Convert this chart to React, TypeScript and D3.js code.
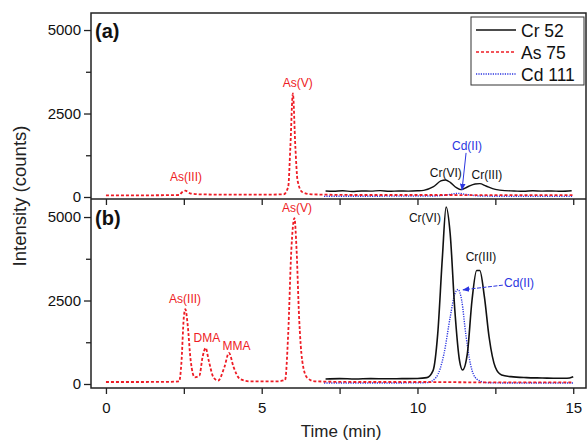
import * as d3 from "d3";
import { useRef, useEffect } from "react";

// time (min), intensity (counts)
const asA: [number, number][] = [
  [0, 50], [1, 50], [2, 55], [2.35, 60], [2.45, 150], [2.55, 190], [2.7, 110], [3, 80],
  [4, 70], [5, 70], [5.7, 80], [5.85, 300], [5.92, 1500], [6.0, 3100], [6.08, 1500],
  [6.15, 500], [6.3, 150], [6.6, 80], [8, 60], [10, 60], [11, 60], [12, 55], [13, 55], [15, 55]
];
const crA: [number, number][] = [
  [7.05, 180], [7.3, 170], [7.6, 185], [7.9, 165], [8.2, 180], [8.5, 175], [8.8, 190],
  [9.1, 170], [9.4, 180], [9.7, 175], [10, 185], [10.2, 200], [10.5, 300], [10.75, 480],
  [10.9, 510], [11.05, 440], [11.25, 280], [11.4, 220], [11.6, 300], [11.85, 390],
  [12.0, 400], [12.2, 330], [12.5, 230], [12.8, 190], [13.1, 180], [13.4, 170],
  [13.7, 185], [14, 175], [14.3, 180], [14.6, 170], [14.95, 185]
];
const cdA: [number, number][] = [
  [7, 20], [9, 25], [10.5, 30], [11, 70], [11.3, 110], [11.6, 70], [12, 30], [13, 20], [15, 20]
];
const asB: [number, number][] = [
  [0, 60], [1, 60], [2, 65], [2.35, 80], [2.42, 600], [2.5, 2000], [2.55, 2240], [2.62, 1800],
  [2.72, 700], [2.85, 200], [3.0, 250], [3.1, 800], [3.2, 1080], [3.3, 700], [3.45, 200],
  [3.6, 100], [3.8, 500], [3.95, 930], [4.1, 500], [4.3, 150], [4.6, 80], [5.5, 80],
  [5.75, 120], [5.85, 1500], [5.95, 4000], [6.05, 4970], [6.12, 4000], [6.2, 2000],
  [6.3, 700], [6.45, 200], [6.7, 80], [8, 60], [10, 60], [12, 50], [15, 50]
];
const crB: [number, number][] = [
  [7.05, 150], [7.5, 160], [8, 150], [8.5, 160], [9, 155], [9.5, 160], [10, 165],
  [10.3, 190], [10.5, 400], [10.65, 1500], [10.8, 3800], [10.92, 5300], [11.05, 4500],
  [11.2, 2200], [11.35, 700], [11.45, 420], [11.6, 900], [11.75, 2500], [11.9, 3400],
  [12.0, 3400], [12.15, 2600], [12.3, 1400], [12.5, 500], [12.7, 270], [13, 220],
  [13.5, 190], [14, 180], [14.5, 170], [14.8, 170], [15, 220]
];
const cdB: [number, number][] = [
  [7, 30], [9, 30], [10.3, 40], [10.6, 200], [10.85, 900], [11.05, 2000], [11.2, 2700],
  [11.3, 2830], [11.42, 2500], [11.55, 1500], [11.7, 600], [11.9, 150], [12.2, 40],
  [13, 30], [15, 30]
];

const xTicks = [0, 5, 10, 15];
const xMinor = [2.5, 7.5, 12.5];
const yTicks = [0, 2500, 5000];
const yMinor = [1250, 3750];

const legendNames = ["Cr 52", "As 75", "Cd 111"];

// label text, time, intensity at baseline, colour key
const labelsA = [
  { text: "As(III)", t: 2.57, v: 480, c: "as" },
  { text: "As(V)", t: 6.16, v: 3300, c: "as" },
  { text: "Cd(II)", t: 11.59, v: 1400, c: "cd" },
  { text: "Cr(VI)", t: 10.91, v: 600, c: "cr" },
  { text: "Cr(III)", t: 12.23, v: 540, c: "cr" }
];
const labelsB = [
  { text: "As(V)", t: 6.13, v: 5150, c: "as" },
  { text: "As(III)", t: 2.54, v: 2425, c: "as" },
  { text: "DMA", t: 3.24, v: 1257, c: "as" },
  { text: "MMA", t: 4.19, v: 1018, c: "as" },
  { text: "Cr(VI)", t: 10.24, v: 4850, c: "cr" },
  { text: "Cr(III)", t: 12.04, v: 3683, c: "cr" },
  { text: "Cd(II)", t: 13.26, v: 2904, c: "cd" }
];

const colors: Record<string, string> = { cr: "#111", as: "#ee1c25", cd: "#2b35e0" };
const dashes: Record<string, string> = { cr: "none", as: "3,2", cd: "1.2,1.2" };
const font = "'Liberation Sans', Arial, sans-serif";

const width = 587;
const height = 440;
const left = 91;
const right = 586;
const topA = 13;
const botA = 199;
const botB = 388;

export default function App() {
  const gyA = useRef<SVGGElement>(null);
  const gyB = useRef<SVGGElement>(null);
  const gxA = useRef<SVGGElement>(null);
  const gxB = useRef<SVGGElement>(null);

  const x = d3.scaleLinear([-0.48, 15.41], [left, right]);
  const yA = d3.scaleLinear([-60, 5510], [botA, topA]);
  const yB = d3.scaleLinear([-120, 5540], [botB, botA]);

  const lineA = d3.line<[number, number]>().x(d => x(d[0])).y(d => yA(d[1])).curve(d3.curveMonotoneX);
  const lineB = d3.line<[number, number]>().x(d => x(d[0])).y(d => yB(d[1])).curve(d3.curveMonotoneX);

  useEffect(() => {
    const style = (g: d3.Selection<SVGGElement, unknown, null, undefined>) => {
      g.select(".domain").remove();
      g.selectAll("line").attr("stroke", "#222").attr("stroke-width", 1.3);
      g.selectAll("text").attr("font-family", font).attr("font-size", 15).attr("fill", "#111");
    };
    [
      [gyA, yA],
      [gyB, yB]
    ].forEach(([ref, y]: any) => {
      const g = d3.select(ref.current as SVGGElement);
      g.selectAll("*").remove();
      g.append("g").call(d3.axisLeft(y).tickValues(yTicks).tickSize(7).tickPadding(3).tickFormat(d3.format("d"))).call(style);
      g.append("g").call(d3.axisLeft(y).tickValues(yMinor).tickSize(5).tickFormat(() => "")).call(style);
    });
    const gA = d3.select(gxA.current as SVGGElement);
    gA.selectAll("*").remove();
    gA.append("g").call(d3.axisBottom(x).tickValues([...xTicks, ...xMinor]).tickSize(6).tickFormat(() => "")).call(style);
    const gB = d3.select(gxB.current as SVGGElement);
    gB.selectAll("*").remove();
    gB.append("g").call(d3.axisBottom(x).tickValues(xTicks).tickSize(6).tickPadding(8).tickFormat(d3.format("d"))).call(style);
    gB.append("g").call(d3.axisBottom(x).tickValues(xMinor).tickSize(6).tickFormat(() => "")).call(style);
  }, []);

  const series = (
    line: d3.Line<[number, number]>,
    data: [number, number][],
    key: string,
    sw: number
  ) => (
    <path d={line(data) ?? ""} fill="none" stroke={colors[key]} strokeWidth={sw} strokeDasharray={dashes[key]} />
  );

  const labels = (ls: typeof labelsA, y: d3.ScaleLinear<number, number>) =>
    ls.map((l, i) => (
      <text key={i} x={x(l.t)} y={y(l.v)} textAnchor="middle" fontSize={12} fontFamily={font} fill={colors[l.c]}>
        {l.text}
      </text>
    ));

  return (
    <svg width={width} height={height} style={{ position: "absolute", left: 0, top: 0, background: "#fff" }}>
      <defs>
        <marker id="arr" viewBox="0 0 10 10" refX="9" refY="5" markerWidth="7" markerHeight="7" orient="auto">
          <path d="M0,1 L10,5 L0,9 z" fill={colors.cd} />
        </marker>
      </defs>

      {/* panel a */}
      {series(lineA, cdA, "cd", 1.4)}
      {series(lineA, asA, "as", 1.8)}
      {series(lineA, crA, "cr", 1.4)}
      {labels(labelsA, yA)}
      <line x1={x(11.56)} y1={yA(1320)} x2={x(11.43)} y2={yA(210)} stroke={colors.cd} strokeWidth={1} markerEnd="url(#arr)" />

      {/* panel b */}
      {series(lineB, cdB, "cd", 1.4)}
      {series(lineB, asB, "as", 1.8)}
      {series(lineB, crB, "cr", 1.6)}
      {labels(labelsB, yB)}
      <line x1={x(12.74)} y1={yB(2960)} x2={x(11.46)} y2={yB(2820)} stroke={colors.cd} strokeWidth={1} strokeDasharray="4,1.5" markerEnd="url(#arr)" />

      {/* frames */}
      <rect x={left} y={topA} width={right - left} height={botB - topA} fill="none" stroke="#222" strokeWidth={1.5} />
      <line x1={left} x2={right} y1={botA} y2={botA} stroke="#222" strokeWidth={1.5} />

      <g ref={gyA} transform={`translate(${left},0)`} />
      <g ref={gyB} transform={`translate(${left},0)`} />
      <g ref={gxA} transform={`translate(0,${botA})`} />
      <g ref={gxB} transform={`translate(0,${botB})`} />

      <text x={95} y={38} fontFamily={font} fontWeight="bold" fontSize={20} fill="#111">(a)</text>
      <text x={95} y={225} fontFamily={font} fontWeight="bold" fontSize={20} fill="#111">(b)</text>

      {/* legend */}
      <rect x={471} y={17} width={113} height={68} fill="#fff" stroke="#333" strokeWidth={1} />
      {legendNames.map((n, i) => {
        const key = ["cr", "as", "cd"][i];
        const ly = 30 + i * 22;
        return (
          <g key={n}>
            <line x1={476} x2={516} y1={ly} y2={ly} stroke={colors[key]} strokeWidth={1.4} strokeDasharray={dashes[key]} />
            <text x={521} y={ly + 6.5} fontFamily={font} fontSize={17.5} fill="#111">{n}</text>
          </g>
        );
      })}

      <text x={341} y={437} textAnchor="middle" fontFamily={font} fontSize={17} fill="#222">Time (min)</text>
      <text transform={`translate(26,196) rotate(-90)`} textAnchor="middle" fontFamily={font} fontSize={18.5} fill="#222">Intensity (counts)</text>
    </svg>
  );
}
